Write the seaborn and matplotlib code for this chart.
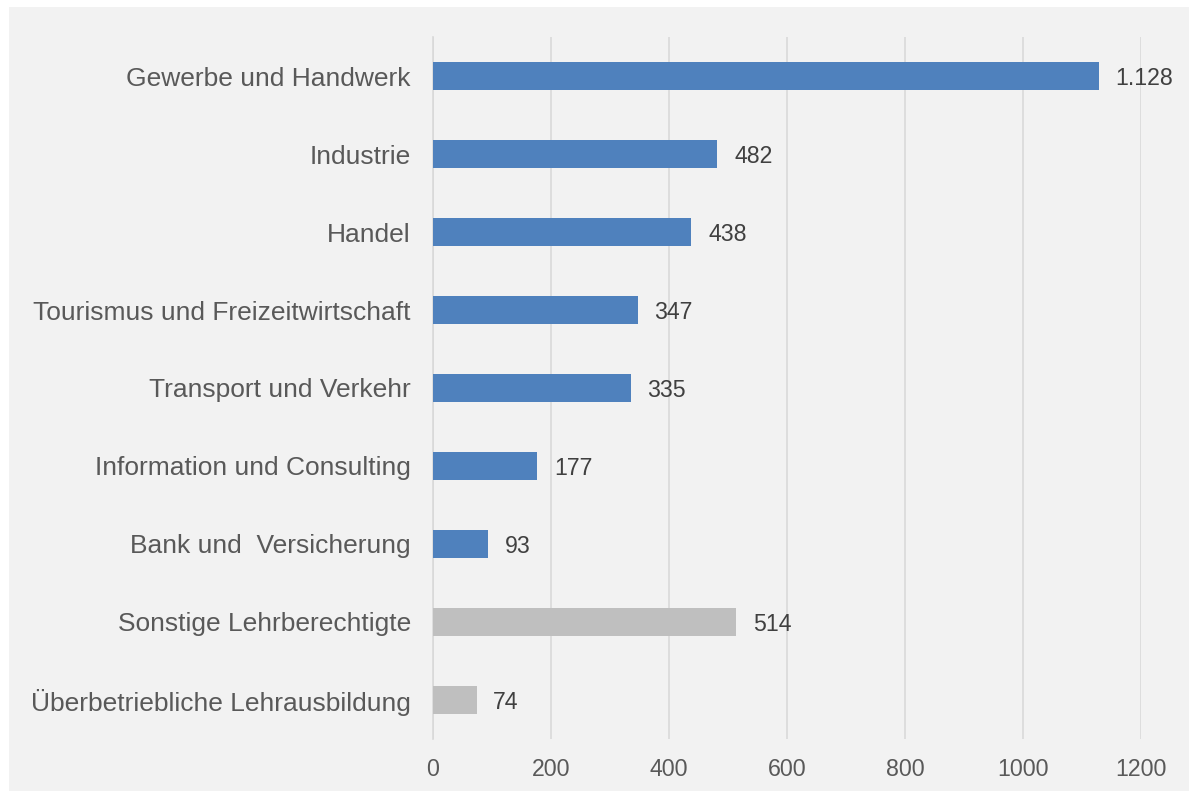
import pandas as pd
import matplotlib.pyplot as plt
import seaborn as sns
from matplotlib.patches import Rectangle

categories = [
    "Gewerbe und Handwerk",
    "Industrie",
    "Handel",
    "Tourismus und Freizeitwirtschaft",
    "Transport und Verkehr",
    "Information und Consulting",
    "Bank und  Versicherung",
    "Sonstige Lehrberechtigte",
    "Überbetriebliche Lehrausbildung",
]
values = [1128, 482, 438, 347, 335, 177, 93, 514, 74]
groups = ["Sparte"] * 7 + ["Sonstige"] * 2
value_labels = ["1.128", "482", "438", "347", "335", "177", "93", "514", "74"]
ticks = [0, 200, 400, 600, 800, 1000, 1200]

df = pd.DataFrame({"Kategorie": categories, "Anzahl": values, "Gruppe": groups})

sns.set_style("white")
plt.rcParams["font.family"] = ["Liberation Sans", "DejaVu Sans"]

fig = plt.figure(figsize=(11.89, 7.91), dpi=100, facecolor="white")
# grey chart area with a thin white margin at top/left
fig.patches.append(Rectangle((9 / 1189, 0), 1, 1 - 7 / 791, transform=fig.transFigure,
                             facecolor="#f2f2f2", edgecolor="none", zorder=-10))
ax = fig.add_axes([433 / 1189, 1 - 739 / 791, 708 / 1189, (739 - 37) / 791])
ax.set_facecolor("none")

sns.barplot(data=df, y="Kategorie", x="Anzahl", hue="Gruppe", orient="h",
            palette={"Sparte": "#4f81bd", "Sonstige": "#bfbfbf"}, saturation=1,
            width=0.35, dodge=False, legend=False, linewidth=0, ax=ax, zorder=3)

for i, (v, lab) in enumerate(zip(values, value_labels)):
    ax.annotate(lab, (v, i), xytext=(12, 0), textcoords="offset points",
                va="center_baseline", ha="left", fontsize=16.7, color="#404040")

ax.set_xlim(0, 1200)
ax.set_ylim(8.5, -0.5)
ax.set_xticks(ticks)
ax.xaxis.grid(True, color="#d9d9d9", linewidth=1.2, zorder=0)
ax.set_axisbelow(True)
for s in ["top", "right", "bottom"]:
    ax.spines[s].set_visible(False)
ax.spines["left"].set_color("#d9d9d9")
ax.spines["left"].set_linewidth(1.2)
ax.tick_params(axis="y", length=0, pad=16, labelsize=19, labelcolor="#595959")
ax.tick_params(axis="x", length=0, pad=14, labelsize=16.7, labelcolor="#595959")
ax.set_xlabel("")
ax.set_ylabel("")

fig.savefig("out.png", dpi=100, facecolor=fig.get_facecolor())
